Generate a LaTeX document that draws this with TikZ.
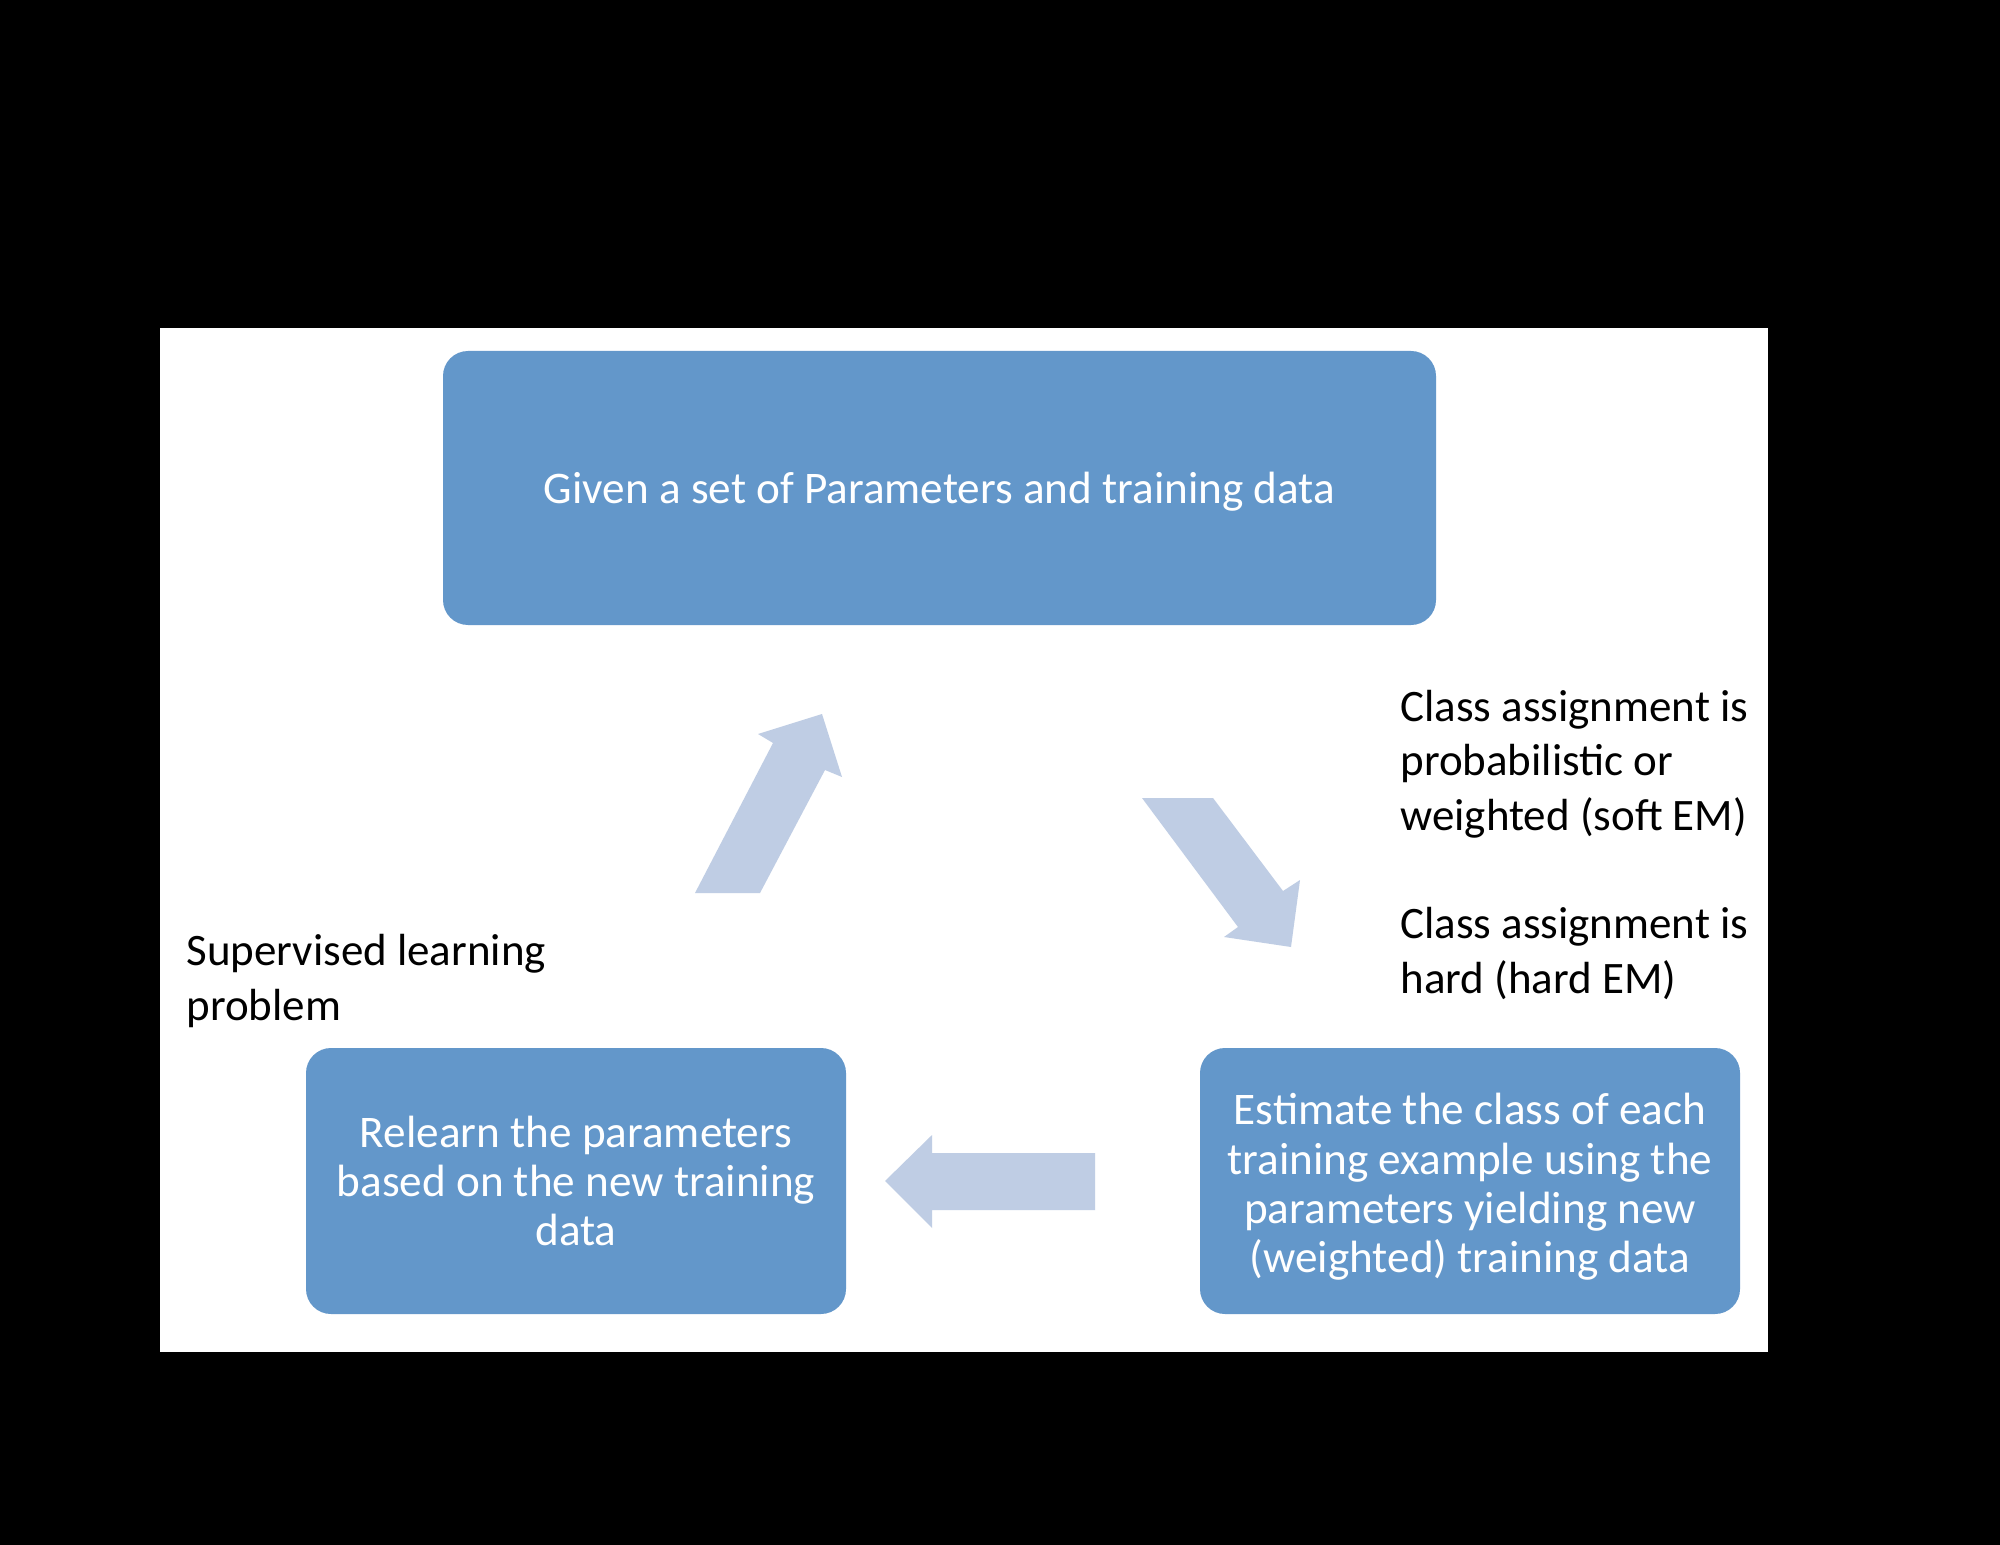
\documentclass[tikz,border=0pt]{standalone}
\usepackage{fontspec}
\setmainfont{Carlito}
\definecolor{boxblue}{HTML}{6397CA}
\definecolor{arrowblue}{HTML}{BFCDE4}
\begin{document}
\begin{tikzpicture}[x=0.5pt,y=-0.5pt,
  stepbox/.style={draw=none, fill=boxblue, rounded corners=12.5pt, text=white, align=center,
    font=\fontsize{22.6}{24.65}\selectfont, inner sep=0pt},
  boxtext/.style={text=white, align=center, font=\fontsize{22.6}{24.65}\selectfont, inner sep=0pt},
  note/.style={anchor=base west, align=left, font=\fontsize{22.5}{27.1}\selectfont, inner sep=0pt},
  blockarrow/.style={fill=arrowblue}]
\fill[black] (0,0) rectangle (2000,1545);
\fill[white] (160,328) rectangle (1768,1352);
\useasboundingbox (0,0) rectangle (2000,1545);

\node[stepbox, minimum width=496.5pt, minimum height=137pt, text depth=0pt] (given) at (939.5,488)
  {Given a set of Parameters and training data};
\node[stepbox, minimum width=270pt, minimum height=133pt] (relearn) at (576,1181)
  {Relearn the parameters\\based on the new training\\data};
\node[stepbox, minimum width=270pt, minimum height=133pt] (estimate) at (1470,1181) {};
\node[boxtext] (estimatetext) at (1470,1187)
  {Estimate the class of each\\training example using the\\parameters yielding new\\(weighted) training data};

\node[note] (soft) at (1400,830) {Class assignment is\\probabilistic or\\weighted (soft EM)};
\node[note] (hard) at (1400,993) {Class assignment is\\hard (hard EM)};
\node[note] (sup) at (186,1020) {Supervised learning\\problem};

\fill[blockarrow] (695,893) -- (760,893) -- (825,770) -- (842,777) -- (822,714) -- (758,734) -- (773,743) -- cycle;
\fill[blockarrow] (1142,798) -- (1213,798) -- (1283,891) -- (1300,880) -- (1291,947) -- (1224,937) -- (1238,927) -- cycle;
\fill[blockarrow] (885,1181) -- (932,1135) -- (932,1153) -- (1095,1153) -- (1095,1210) -- (932,1210) -- (932,1228) -- cycle;
\end{tikzpicture}
\end{document}
